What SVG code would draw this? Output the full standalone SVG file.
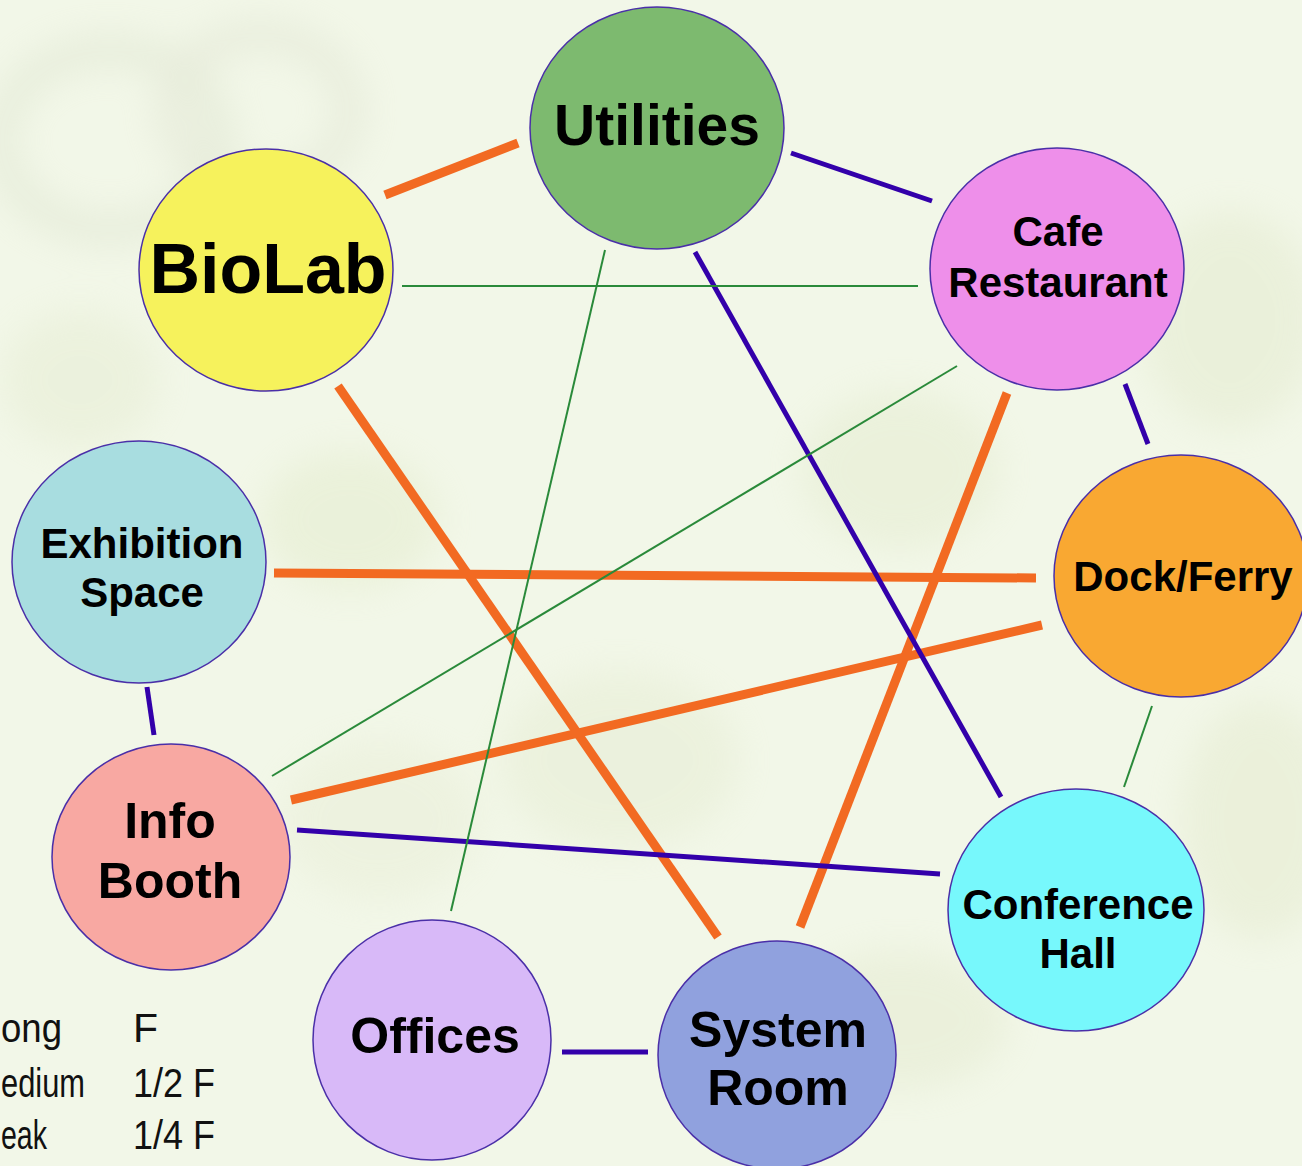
<svg xmlns="http://www.w3.org/2000/svg" width="1302" height="1166" viewBox="0 0 1302 1166">
<defs>
<filter id="blur" x="-50%" y="-50%" width="200%" height="200%"><feGaussianBlur stdDeviation="18"/></filter>
<style>
.node{stroke:#4a2fa8;stroke-width:1.5}
.lbl{font-family:"Liberation Sans",Arial,sans-serif;font-weight:bold;fill:#000;text-anchor:middle}
.strong{stroke:#f26a22;stroke-width:9;fill:none}
.medium{stroke:#3300aa;stroke-width:5;fill:none}
.weak{stroke:#2a8a3a;stroke-width:2;fill:none}
.leg{font-family:"Liberation Sans",Arial,sans-serif;font-size:41px;fill:#111}
</style>
</defs>
<rect width="1302" height="1166" fill="#f2f7e8"/>
<g id="background" filter="url(#blur)" opacity="0.38">
<ellipse cx="110" cy="140" rx="110" ry="90" fill="none" stroke="#d4dcc4" stroke-width="30"/>
<ellipse cx="260" cy="110" rx="90" ry="75" fill="none" stroke="#d8dcc8" stroke-width="30"/>
<ellipse cx="350" cy="520" rx="90" ry="70" fill="#dfe8c4"/>
<ellipse cx="900" cy="470" rx="100" ry="80" fill="#e0e8c8"/>
<ellipse cx="620" cy="760" rx="120" ry="90" fill="#e2e9cc"/>
<ellipse cx="1230" cy="320" rx="90" ry="110" fill="#dfe6c6"/>
<ellipse cx="1260" cy="820" rx="80" ry="120" fill="#e0e6c6"/>
<ellipse cx="380" cy="820" rx="100" ry="80" fill="#e6ebd2"/>
<ellipse cx="900" cy="1020" rx="110" ry="70" fill="#e0e6c8"/>
<ellipse cx="80" cy="380" rx="80" ry="70" fill="#e2e9cc"/>
</g>
<g id="connectors">
<line class="strong" x1="385" y1="195" x2="518" y2="143"/>
<line class="strong" x1="338" y1="386" x2="718" y2="937"/>
<line class="strong" x1="274" y1="573" x2="1036" y2="578"/>
<line class="strong" x1="291" y1="800" x2="1042" y2="625"/>
<line class="strong" x1="1007" y1="393" x2="800" y2="927"/>
<line class="medium" x1="791" y1="153" x2="932" y2="201"/>
<line class="medium" x1="695" y1="252" x2="1001" y2="797"/>
<line class="medium" x1="1125" y1="384" x2="1148" y2="444"/>
<line class="medium" x1="147" y1="687" x2="154" y2="735"/>
<line class="medium" x1="297" y1="830" x2="940" y2="874"/>
<line class="medium" x1="562" y1="1052" x2="648" y2="1052"/>
<line class="weak" x1="402" y1="286" x2="918" y2="286"/>
<line class="weak" x1="605" y1="250" x2="451" y2="911"/>
<line class="weak" x1="957" y1="366" x2="272" y2="776"/>
<line class="weak" x1="1152" y1="706" x2="1124" y2="787"/>
</g>
<g id="utilities"><ellipse class="node" cx="657" cy="128" rx="127" ry="121" fill="#7dba6f"/><text class="lbl" x="657" y="145" font-size="57">Utilities</text></g>
<g id="biolab"><ellipse class="node" cx="266" cy="270" rx="127" ry="121" fill="#f6f25c"/><text class="lbl" x="268" y="293" font-size="70">BioLab</text></g>
<g id="cafe"><ellipse class="node" cx="1057" cy="269" rx="127" ry="121" fill="#ee8fea"/><text class="lbl" x="1058" y="246" font-size="42">Cafe</text><text class="lbl" x="1058" y="297" font-size="42">Restaurant</text></g>
<g id="exhibition"><ellipse class="node" cx="139" cy="562" rx="127" ry="121" fill="#a8dde0"/><text class="lbl" x="142" y="558" font-size="42">Exhibition</text><text class="lbl" x="142" y="607" font-size="42">Space</text></g>
<g id="dock"><ellipse class="node" cx="1181" cy="576" rx="127" ry="121" fill="#f9a832"/><text class="lbl" x="1183" y="591" font-size="42">Dock/Ferry</text></g>
<g id="info"><ellipse class="node" cx="171" cy="857" rx="119" ry="113" fill="#f8a8a2"/><text class="lbl" x="170" y="838" font-size="50">Info</text><text class="lbl" x="170" y="898" font-size="50">Booth</text></g>
<g id="conference"><ellipse class="node" cx="1076" cy="910" rx="128" ry="121" fill="#77f8fc"/><text class="lbl" x="1078" y="919" font-size="42">Conference</text><text class="lbl" x="1078" y="968" font-size="42">Hall</text></g>
<g id="offices"><ellipse class="node" cx="432" cy="1040" rx="119" ry="120" fill="#d8b9f8"/><text class="lbl" x="435" y="1053" font-size="50">Offices</text></g>
<g id="system"><ellipse class="node" cx="777" cy="1055" rx="119" ry="114" fill="#90a1de"/><text class="lbl" x="778" y="1047" font-size="50">System</text><text class="lbl" x="778" y="1105" font-size="50">Room</text></g>
<g id="legend">
<text class="leg" x="1" y="1042" textLength="61" lengthAdjust="spacingAndGlyphs">ong</text><text class="leg" x="133" y="1042">F</text>
<text class="leg" x="1" y="1097" textLength="84" lengthAdjust="spacingAndGlyphs">edium</text><text class="leg" x="133" y="1097" textLength="82" lengthAdjust="spacingAndGlyphs">1/2 F</text>
<text class="leg" x="1" y="1149" textLength="46" lengthAdjust="spacingAndGlyphs">eak</text><text class="leg" x="133" y="1149" textLength="82" lengthAdjust="spacingAndGlyphs">1/4 F</text>
</g>
</svg>
